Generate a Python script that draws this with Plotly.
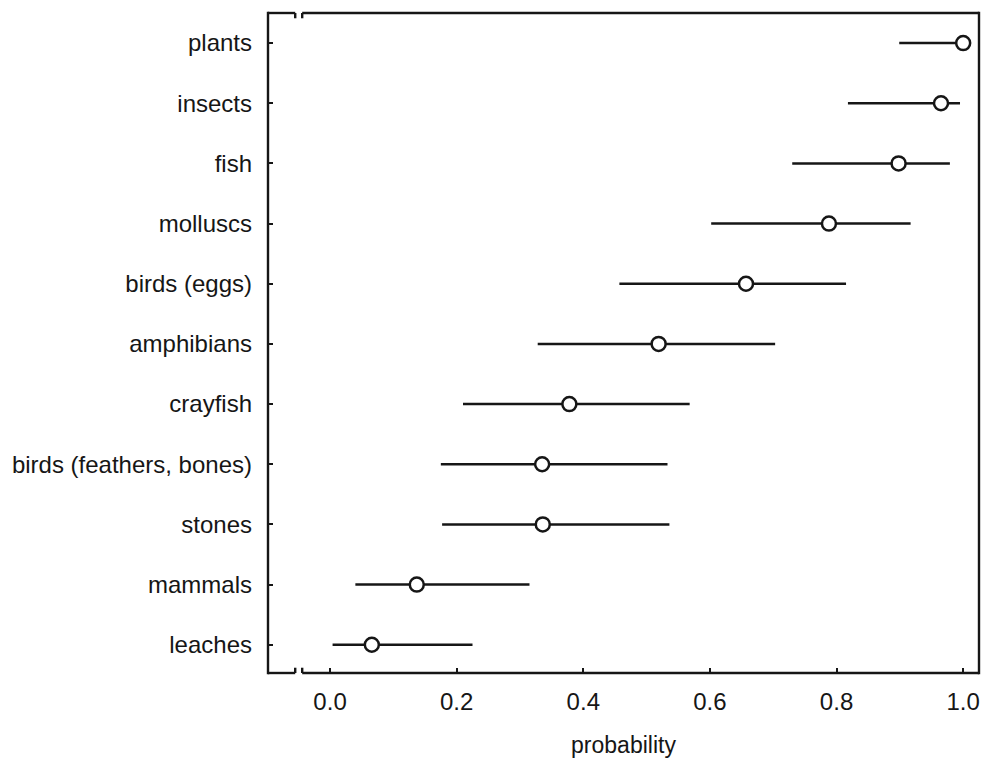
import plotly.graph_objects as go

categories = ["plants", "insects", "fish", "molluscs", "birds (eggs)", "amphibians",
              "crayfish", "birds (feathers, bones)", "stones", "mammals", "leaches"]
estimate = [1.000, 0.965, 0.898, 0.788, 0.657, 0.519, 0.378, 0.335, 0.336, 0.137, 0.066]
lower = [0.899, 0.818, 0.730, 0.602, 0.457, 0.328, 0.210, 0.175, 0.177, 0.040, 0.004]
upper = [1.000, 0.995, 0.979, 0.917, 0.815, 0.703, 0.568, 0.533, 0.536, 0.315, 0.225]
x_ticks = [0.0, 0.2, 0.4, 0.6, 0.8, 1.0]
x_tick_labels = ["0.0", "0.2", "0.4", "0.6", "0.8", "1.0"]
x_title = "probability"

INK = "#161616"
FONT = "Liberation Sans, Arial, sans-serif"

err_plus = [u - e for u, e in zip(upper, estimate)]
err_minus = [e - l for e, l in zip(estimate, lower)]

fig = go.Figure()
fig.add_trace(go.Scatter(
    x=estimate, y=categories, mode="markers",
    marker=dict(symbol="circle", size=14, color="white", line=dict(color=INK, width=2.5)),
    error_x=dict(type="data", symmetric=False, array=err_plus, arrayminus=err_minus,
                 width=0, thickness=2.5, color=INK),
    showlegend=False, cliponaxis=False,
))

x_lo, x_hi = -0.098, 1.025
brk_l, brk_r = -0.055, -0.044
lw = 2.4
line = dict(color=INK, width=lw)
shapes = [
    dict(type="line", xref="paper", yref="paper", x0=0, x1=0, y0=-0.0018, y1=1.0018, line=line),
    dict(type="line", xref="paper", yref="paper", x0=1, x1=1, y0=-0.0018, y1=1.0018, line=line),
    # bottom
    dict(type="line", xref="x", yref="paper", x0=x_lo, x1=brk_l, y0=0, y1=0, line=line),
    dict(type="line", xref="x", yref="paper", x0=brk_r, x1=x_hi, y0=0, y1=0, line=line),
    dict(type="line", xref="x", yref="paper", x0=brk_l, x1=brk_l, y0=0, y1=0.008, line=line),
    dict(type="line", xref="x", yref="paper", x0=brk_r, x1=brk_r, y0=0, y1=0.008, line=line),
    # top
    dict(type="line", xref="x", yref="paper", x0=x_lo, x1=brk_l, y0=1, y1=1, line=line),
    dict(type="line", xref="x", yref="paper", x0=brk_r, x1=x_hi, y0=1, y1=1, line=line),
    dict(type="line", xref="x", yref="paper", x0=brk_l, x1=brk_l, y0=1, y1=0.992, line=line),
    dict(type="line", xref="x", yref="paper", x0=brk_r, x1=brk_r, y0=1, y1=0.992, line=line),
]

fig.update_layout(
    width=981, height=758,
    margin=dict(l=268, r=2, t=13, b=85),
    paper_bgcolor="white", plot_bgcolor="white",
    font=dict(family=FONT, size=24, color=INK),
    shapes=shapes,
    hovermode=False,
    xaxis=dict(
        range=[x_lo, x_hi], tickvals=x_ticks, ticktext=x_tick_labels,
        ticks="inside", ticklen=5, tickwidth=2, tickcolor=INK,
        showline=False, showgrid=False, zeroline=False,
        tickfont=dict(size=24, color=INK), ticklabelstandoff=12,
        title=dict(text=x_title, font=dict(size=23, color=INK), standoff=22),
    ),
    yaxis=dict(
        type="category", categoryorder="array", categoryarray=categories[::-1],
        range=[-0.47, 10.5],
        ticks="inside", ticklen=5, tickwidth=2, tickcolor=INK,
        showline=False, showgrid=False, zeroline=False,
        tickfont=dict(size=24, color=INK), ticklabelstandoff=15,
    ),
)

page_css = ("document.body.style.margin='0';"
            "document.body.style.overflow='hidden';"
            "document.documentElement.style.overflow='hidden';")
fig.write_html("out.html", post_script=page_css, config={"displayModeBar": False})
